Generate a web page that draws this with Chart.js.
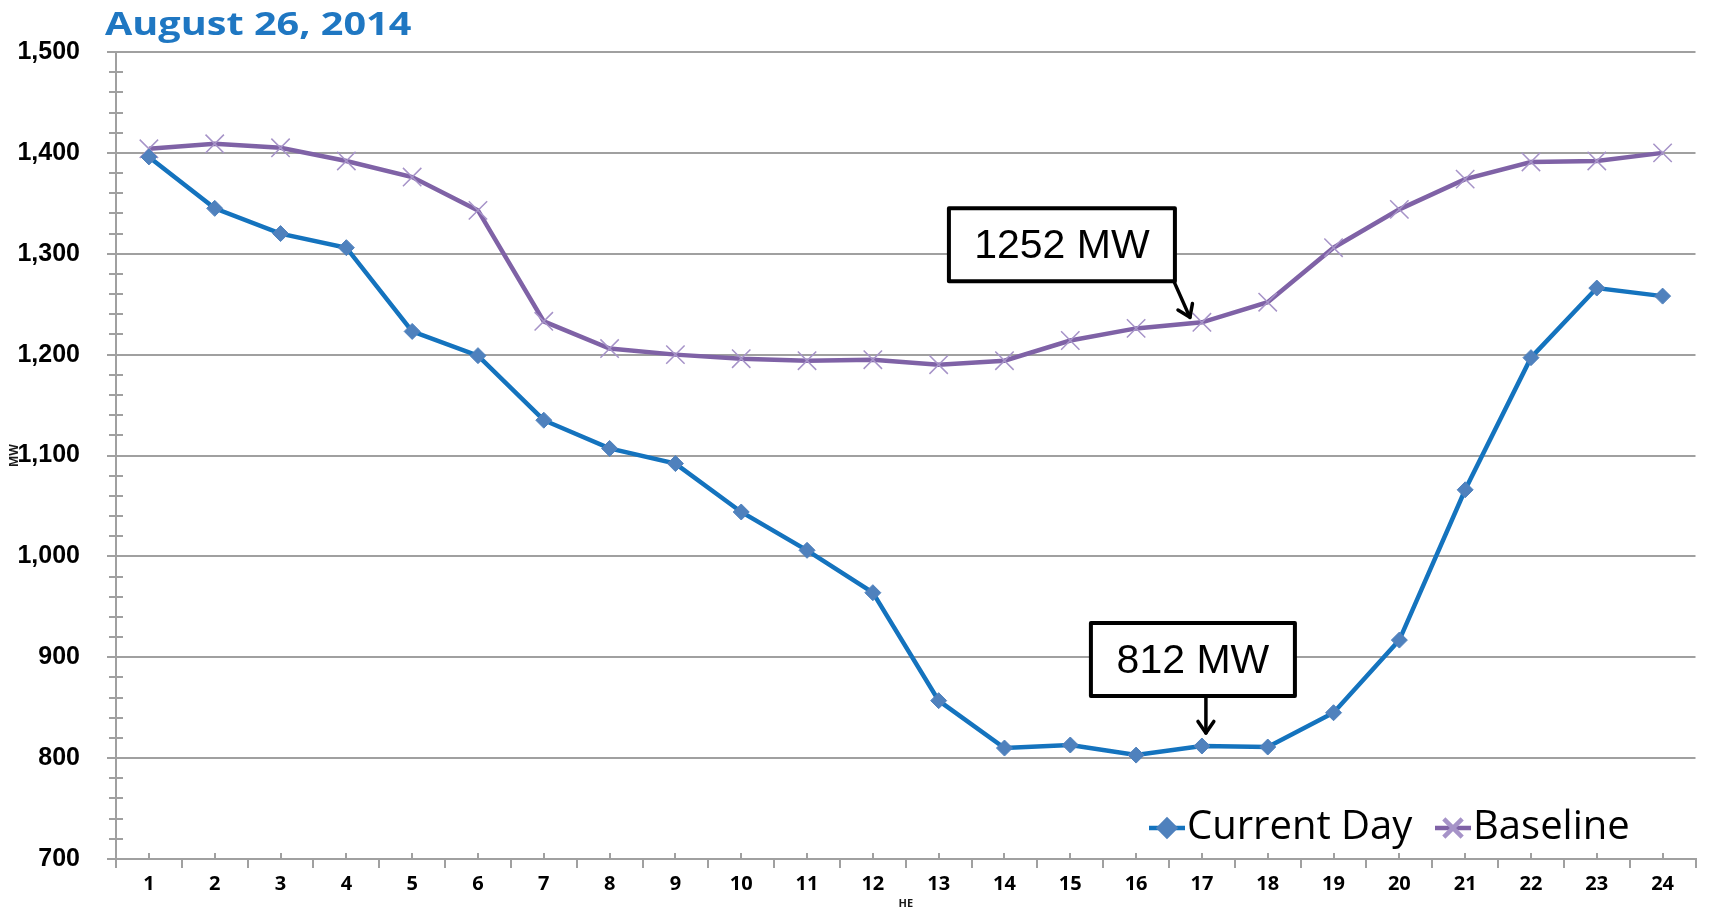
<!DOCTYPE html>
<html><head><meta charset="utf-8">
<script src="https://cdn.jsdelivr.net/npm/chart.js@4.4.0/dist/chart.umd.min.js"></script>
<style>html,body{margin:0;padding:0;background:#fff;overflow:hidden}#wrap{width:1710px;height:914px}</style>
</head><body><div id="wrap"><canvas id="c" width="1710" height="914"></canvas></div>
<script>
const TITLE = 'August 26, 2014';
const hours = ['1','2','3','4','5','6','7','8','9','10','11','12','13','14','15','16','17','18','19','20','21','22','23','24'];
const currentDay = [1396,1345,1320,1306,1223,1199,1135,1107,1092,1044,1006,964,857,810,813,803,812,811,845,917,1066,1197,1266,1258];
const baseline = [1404,1409,1405,1392,1376,1343,1233,1206,1200,1196,1194,1195,1190,1194,1214,1226,1232,1252,1306,1344,1374,1391,1392,1400];
const seriesNames = ['Current Day','Baseline'];
const yMin = 700, yMax = 1500, yStep = 100, yMinorStep = 20;
const xTitle = 'HE';
const yTitle = 'MW';
const noteTexts = ['1252 MW','812 MW'];
const noteSeries = [1,0];
const noteHour = [16,16];

const GRID = '#A0A0A0';

const titlePlugin = {
  id:'titleText',
  afterDraw(chart){
    const ctx = chart.ctx; ctx.save();
    ctx.font = 'bold 33px "Open Sans"';
    ctx.fillStyle = '#1F77C2';
    ctx.textBaseline = 'alphabetic'; ctx.textAlign = 'left';
    ctx.translate(105, 35); ctx.scale(1.2, 1);
    ctx.fillText(TITLE, 0, 0);
    ctx.restore();
  }
};

const minorTicks = {
  id:'minorTicks',
  beforeDatasetsDraw(chart){
    const ctx = chart.ctx, y = chart.scales.y, x = chart.scales.x, a = chart.chartArea;
    ctx.save(); ctx.strokeStyle = GRID; ctx.lineWidth = 2;
    ctx.beginPath();
    for (let v = yMin; v <= yMax; v += yMinorStep){
      const py = Math.round(y.getPixelForValue(v));
      ctx.moveTo(a.left-7, py); ctx.lineTo(a.left+7, py);
    }
    for (let i = 0; i < hours.length; i++){
      const px = Math.round(x.getPixelForValue(i));
      ctx.moveTo(px, a.bottom); ctx.lineTo(px, a.bottom-6);
    }
    ctx.stroke(); ctx.restore();
  }
};

const legendPlugin = {
  id:'customLegend',
  afterDraw(chart){
    const ctx = chart.ctx, a = chart.chartArea;
    const starts = [a.left+1033, a.left+1319];
    const cy = a.bottom - 31;
    ctx.save();
    chart.data.datasets.forEach((ds, i) => {
      const x0 = starts[i];
      ctx.strokeStyle = ds.borderColor; ctx.lineWidth = 4.5; ctx.lineCap='butt';
      ctx.beginPath(); ctx.moveTo(x0, cy); ctx.lineTo(x0+36, cy); ctx.stroke();
      ctx.fillStyle = ds.pointBackgroundColor; ctx.strokeStyle = ds.pointBorderColor;
      Chart.helpers.drawPoint(ctx, {pointStyle: ds.pointStyle, radius: ds.pointRadius, rotation:0, borderWidth: ds.pointBorderWidth}, x0+18, cy);
      ctx.fillStyle = '#000'; ctx.font = '40px "Open Sans"'; ctx.textBaseline='middle'; ctx.textAlign='left';
      ctx.fillText(ds.label, x0+38, cy);
    });
    ctx.restore();
  }
};

const notePlugin = {
  id:'notes',
  afterDatasetsDraw(chart){
    const ctx = chart.ctx;
    ctx.save();
    noteTexts.forEach((t, i) => {
      const meta = chart.getDatasetMeta(noteSeries[i]);
      const pt = meta.data[noteHour[i]];
      const px = pt.x, py = pt.y;
      let box, a0, a1;
      if (i === 0){
        box = {l:px-253, r:px-27, t:py-114, b:py-41};
        a0 = [px-28, py-41]; a1 = [px-12, py-5];
      } else {
        box = {l:px-111, r:px+93, t:py-123, b:py-50};
        a0 = [px+4, py-50]; a1 = [px+4, py-13];
      }
      ctx.fillStyle = '#fff'; ctx.strokeStyle = '#000'; ctx.lineWidth = 4; ctx.lineJoin='round';
      ctx.beginPath(); ctx.rect(box.l, box.t, box.r-box.l, box.b-box.t); ctx.fill(); ctx.stroke();
      ctx.fillStyle = '#000'; ctx.font = '41px "Liberation Sans"'; ctx.textAlign='center'; ctx.textBaseline='middle';
      ctx.fillText(t, (box.l+box.r)/2, (box.t+box.b)/2+2);
      ctx.lineWidth = 3.5; ctx.lineCap='round';
      ctx.beginPath(); ctx.moveTo(a0[0], a0[1]); ctx.lineTo(a1[0], a1[1]); ctx.stroke();
      const ang = Math.atan2(a1[1]-a0[1], a1[0]-a0[0]);
      const hl = 14, sp = 0.6;
      ctx.beginPath();
      ctx.moveTo(a1[0]-hl*Math.cos(ang-sp), a1[1]-hl*Math.sin(ang-sp));
      ctx.lineTo(a1[0], a1[1]);
      ctx.lineTo(a1[0]-hl*Math.cos(ang+sp), a1[1]-hl*Math.sin(ang+sp));
      ctx.stroke();
    });
    ctx.restore();
  }
};

new Chart(document.getElementById('c'), {
  type:'line',
  data:{
    labels: hours,
    datasets:[
      {label: seriesNames[0], data: currentDay, borderColor:'#1473BE', borderWidth:4.5,
       pointStyle:'rectRot', pointRadius:8, pointBackgroundColor:'#4F81BD', pointBorderColor:'#4F81BD', pointBorderWidth:1,
       tension:0, order:1},
      {label: seriesNames[1], data: baseline, borderColor:'#7F62A6', borderWidth:4.5,
       pointStyle:'crossRot', pointRadius:13, pointBackgroundColor:'#A693C8', pointBorderColor:'#A693C8', pointBorderWidth:1.5,
       tension:0, order:2}
    ]
  },
  options:{
    responsive:false, animation:false, devicePixelRatio:1,
    layout:{padding:{top:52, right:10, left:0, bottom:0}},
    plugins:{legend:{display:false}, tooltip:{enabled:false}, title:{display:false}},
    scales:{
      x:{
        offset:true,
        grid:{display:true, drawOnChartArea:false, drawTicks:true, tickLength:9, color:GRID, lineWidth:2, offset:true},
        border:{display:true, color:GRID, width:2},
        ticks:{color:'#000', font:{family:'"Open Sans"', weight:'bold', size:20}, padding:4, maxRotation:0, autoSkip:false},
        title:{display:true, text:xTitle, color:'#1a1a1a', font:{family:'"Open Sans"', weight:'bold', size:11}, padding:{top:0,bottom:4}},
        afterFit(s){ s.height = 55; }
      },
      y:{
        min:yMin, max:yMax,
        grid:{color:GRID, lineWidth:2, tickLength:9, drawTicks:true},
        border:{display:true, color:GRID, width:2},
        ticks:{stepSize:yStep, color:'#000', font:{family:'"Liberation Sans"', weight:'bold', size:25}, padding:27,
               callback:(v)=>v.toLocaleString('en-US')},
        title:{display:true, text:yTitle, color:'#1a1a1a', font:{family:'"Open Sans"', weight:'bold', size:12}, padding:{top:7,bottom:0}},
        afterFit(s){ s.width = 116; }
      }
    }
  },
  plugins:[titlePlugin, minorTicks, notePlugin, legendPlugin]
});
</script></body></html>
